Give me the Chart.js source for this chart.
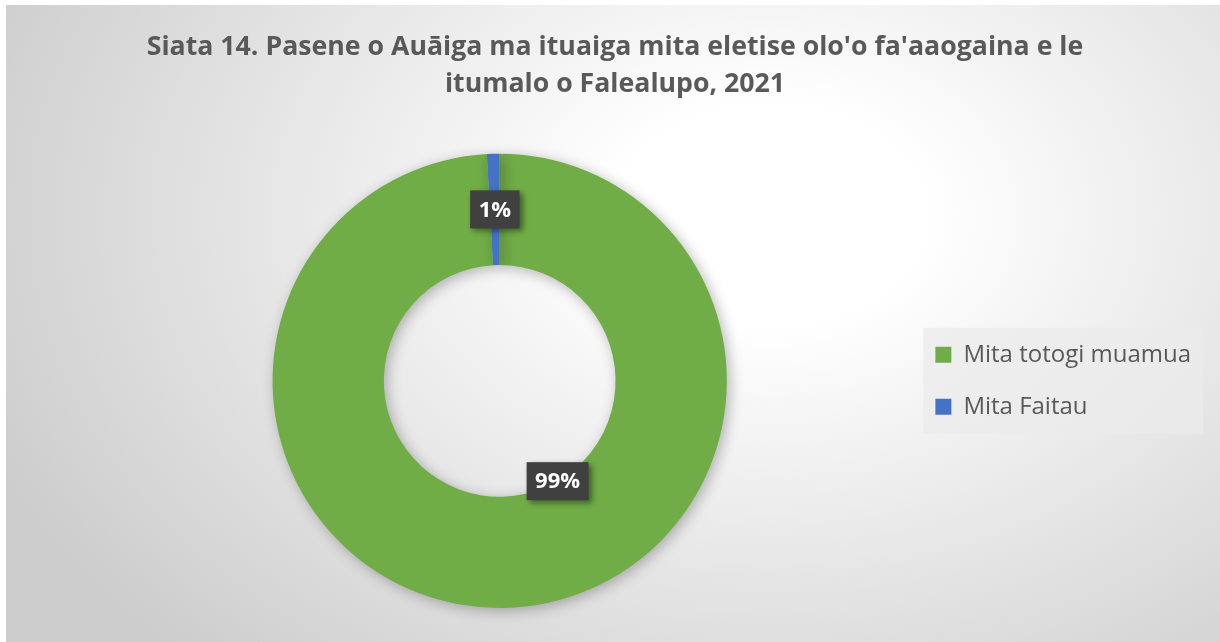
<!DOCTYPE html>
<html>
<head>
<meta charset="utf-8">
<script src="https://cdn.jsdelivr.net/npm/chart.js@4.4.0/dist/chart.umd.min.js"></script>
<style>
  html, body { margin: 0; padding: 0; background: #fff; }
  #wrap {
    position: absolute; left: 6px; top: 5px; width: 1214px; height: 637px;
    background: radial-gradient(ellipse 70% 95% at 63% 33%, #ffffff 0%, #ffffff 18%, #cdcdcd 100%);
  }
</style>
</head>
<body>
<div id="wrap"><canvas id="chart" width="1214" height="637"></canvas></div>
<script>
const titleLines = ["Siata 14. Pasene o Auāiga ma ituaiga mita eletise olo'o fa'aaogaina e le", 'itumalo o Falealupo, 2021']
const categories = ['Mita totogi muamua', 'Mita Faitau']
const shares = [99.1, 0.9]
const sliceColors = ['#70AD47', '#4472C4']

// where each data label sits: angle (deg clockwise from top, null = middle of slice) and radius fraction in the ring
const labelPlacement = [{ angle: 150, r: 0 }, { angle: null, r: 0.5 }]

// centre the title over the whole canvas instead of the padded box
const titleSpan = {
  id: 'titleSpan',
  afterLayout(chart) {
    const t = chart.titleBlock
    if (!t) return
    t.left = 0
    t.right = chart.width + 4
  }
}

const ringShadow = {
  id: 'ringShadow',
  beforeDatasetsDraw(chart) {
    const ctx = chart.ctx
    ctx.save()
    ctx.shadowColor = 'rgba(0,0,0,0.28)'
    ctx.shadowBlur = 14
    ctx.shadowOffsetX = 3
    ctx.shadowOffsetY = 3
  },
  afterDatasetsDraw(chart) {
    chart.ctx.restore()
  }
}

const legendBack = {
  id: 'legendBack',
  beforeDraw(chart) {
    const boxes = chart.legend && chart.legend.legendHitBoxes
    if (!boxes || !boxes.length) return
    const left = Math.min(...boxes.map(b => b.left)) - 12
    const right = Math.max(...boxes.map(b => b.left + b.width)) + 12
    const top = Math.min(...boxes.map(b => b.top)) - 15
    const bottom = Math.max(...boxes.map(b => b.top + b.height)) + 15
    const ctx = chart.ctx
    ctx.save()
    ctx.fillStyle = 'rgba(235,235,235,0.75)'
    ctx.fillRect(left, top, right - left, bottom - top)
    ctx.restore()
  }
}

const pctLabels = {
  id: 'pctLabels',
  afterDatasetsDraw(chart) {
    const ctx = chart.ctx
    const meta = chart.getDatasetMeta(0)
    const total = shares.reduce((a, b) => a + b, 0)
    meta.data.forEach((arc, i) => {
      const p = arc.getProps(['x', 'y', 'startAngle', 'endAngle', 'innerRadius', 'outerRadius'], true)
      const place = labelPlacement[i]
      const ang = place.angle === null ? (p.startAngle + p.endAngle) / 2 : (place.angle - 90) * Math.PI / 180
      const rad = p.innerRadius + (p.outerRadius - p.innerRadius) * place.r
      const cx = p.x + Math.cos(ang) * rad
      const cy = p.y + Math.sin(ang) * rad
      const text = Math.round(shares[i] / total * 100) + '%'
      ctx.save()
      ctx.font = 'bold 22px "Open Sans", sans-serif'
      const w = ctx.measureText(text).width + 17
      const h = 38
      ctx.shadowColor = 'rgba(0,0,0,0.45)'
      ctx.shadowBlur = 6
      ctx.shadowOffsetX = 3
      ctx.shadowOffsetY = 3
      ctx.fillStyle = '#404040'
      ctx.fillRect(cx - w / 2, cy - h / 2, w, h)
      ctx.shadowColor = 'transparent'
      ctx.fillStyle = '#ffffff'
      ctx.textAlign = 'center'
      ctx.textBaseline = 'middle'
      ctx.fillText(text, cx, cy + 1)
      ctx.restore()
    })
  }
}

new Chart(document.getElementById('chart'), {
  type: 'doughnut',
  data: {
    labels: categories,
    datasets: [{
      data: shares,
      backgroundColor: sliceColors,
      borderWidth: 0,
      hoverOffset: 0
    }]
  },
  options: {
    responsive: false,
    animation: false,
    cutout: '51%',
    layout: { padding: { left: 86, right: 19, top: 0, bottom: 34 } },
    plugins: {
      title: {
        display: true,
        text: titleLines,
        color: '#595959',
        font: { family: '"Open Sans", sans-serif', size: 26.7, weight: 'bold', lineHeight: 1.38 },
        padding: { top: 24, bottom: 51 }
      },
      legend: {
        position: 'right',
        fullSize: false,
        labels: {
          color: '#595959',
          font: { family: '"Open Sans", sans-serif', size: 24 },
          boxWidth: 16,
          boxHeight: 16,
          padding: 28
        }
      },
      tooltip: { enabled: false }
    }
  },
  plugins: [titleSpan, legendBack, ringShadow, pctLabels]
})
</script>
</body>
</html>
